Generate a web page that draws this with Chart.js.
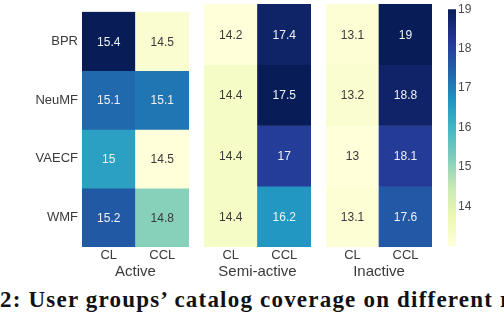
<!DOCTYPE html>
<html>
<head>
<meta charset="utf-8">
<script src="https://cdn.jsdelivr.net/npm/chart.js@4/dist/chart.umd.min.js"></script>
<style>
  html, body { margin: 0; padding: 0; background: #fff; }
  body { width: 504px; height: 312px; position: relative; overflow: hidden; }
  canvas { position: absolute; top: 0; }
  #caption {
    position: absolute; left: 0; top: 288px; white-space: nowrap;
    font: bold 23px 'Liberation Serif', serif; line-height: 23px; letter-spacing: 1.2px; color: #111;
  }
</style>
</head>
<body>
<canvas id="active" width="190" height="281" style="left:0px"></canvas>
<canvas id="semi" width="108" height="281" style="left:204px"></canvas>
<canvas id="inactive" width="107" height="281" style="left:326px"></canvas>
<canvas id="cbar" width="64" height="281" style="left:440px"></canvas>
<div id="caption">2: User groups’ catalog coverage on different recommendation models</div>
<script>
// rows / columns / panels
const rowLabels = ['BPR', 'NeuMF', 'VAECF', 'WMF'];
const colLabels = ['CL', 'CCL'];
const groupLabels = ['Active', 'Semi-active', 'Inactive'];

// catalog coverage, one array per panel column (top row first)
const activeCL = [15.4, 15.14, 15.0, 15.18];
const activeCCL = [14.49, 15.11, 14.46, 14.8];
const semiCL = [14.2, 14.4, 14.4, 14.4];
const semiCCL = [17.4, 17.5, 17.0, 16.2];
const inactiveCL = [13.1, 13.2, 13.0, 13.1];
const inactiveCCL = [19.0, 18.8, 18.1, 17.6];

// colour bar range and ticks
const cbarMin = 13, cbarMax = 19;
const cbarTicks = [14, 15, 16, 17, 18, 19];

const ylgnbu = ['#ffffd9', '#edf8b1', '#c7e9b4', '#7fcdbb', '#41b6c4', '#1d91c0', '#225ea8', '#253494', '#081d58'];
const FONT = "'Liberation Sans', Arial, sans-serif";
const INK = '#3a3a3a';

function hexRgb(h) {
  return [parseInt(h.substr(1, 2), 16), parseInt(h.substr(3, 2), 16), parseInt(h.substr(5, 2), 16)];
}

function cmap(t) {
  t = Math.max(0, Math.min(1, t));
  let p = t * (ylgnbu.length - 1);
  let i = Math.min(Math.floor(p), ylgnbu.length - 2);
  let f = p - i;
  let a = hexRgb(ylgnbu[i]), b = hexRgb(ylgnbu[i + 1]);
  let c = a.map((v, k) => Math.round(v + (b[k] - v) * f));
  return 'rgb(' + c.join(',') + ')';
}

function textColor(rgb) {
  let c = rgb.match(/\d+/g).map(v => {
    v = v / 255;
    return v <= 0.03928 ? v / 12.92 : Math.pow((v + 0.055) / 1.055, 2.4);
  });
  let lum = 0.2126 * c[0] + 0.7152 * c[1] + 0.0722 * c[2];
  return lum > 0.408 ? INK : '#eef2f7';
}

function fmt(v) {
  return String(+v.toPrecision(3));
}

// writes the value in the middle of each cell
const cellText = {
  id: 'cellText',
  afterDatasetsDraw(chart) {
    const ctx = chart.ctx;
    ctx.save();
    ctx.font = '12px ' + FONT;
    ctx.textAlign = 'center';
    ctx.textBaseline = 'middle';
    chart.data.datasets.forEach((ds, i) => {
      chart.getDatasetMeta(i).data.forEach((bar, j) => {
        ctx.fillStyle = textColor(ds.backgroundColor[j]);
        ctx.fillText(fmt(ds.values[j]), bar.x, (bar.y + bar.base) / 2 + 1);
      });
    });
    ctx.restore();
  }
};

function makePanel(id, group, cl, ccl, showY) {
  let all = cl.concat(ccl);
  let lo = Math.min(...all), hi = Math.max(...all);
  let datasets = rowLabels.map((r, i) => ({
    label: r,
    data: [1, 1],
    values: [cl[i], ccl[i]],
    backgroundColor: [cmap((cl[i] - lo) / (hi - lo)), cmap((ccl[i] - lo) / (hi - lo))],
    borderWidth: 0,
    barPercentage: 1,
    categoryPercentage: 1
  }));

  let yScale = {
    display: showY,
    stacked: true,
    reverse: true,
    min: 0,
    max: rowLabels.length,
    grid: { display: false, drawTicks: false },
    border: { display: false },
    afterBuildTicks: s => { s.ticks = rowLabels.map((_, i) => ({ value: i + 0.5 })); },
    ticks: {
      autoSkip: false,
      color: INK,
      font: { family: FONT, size: 13 },
      padding: 4,
      callback: v => rowLabels[Math.floor(v)]
    }
  };
  if (showY) yScale.afterFit = s => { s.width = 82; };

  return new Chart(document.getElementById(id), {
    type: 'bar',
    data: { labels: colLabels, datasets: datasets },
    plugins: [cellText],
    options: {
      responsive: false,
      animation: false,
      layout: { padding: { top: 4, right: 1, left: 0, bottom: 0 } },
      plugins: { legend: { display: false }, tooltip: { enabled: false } },
      scales: {
        x: {
          stacked: true,
          grid: { display: false, drawTicks: false },
          border: { display: false },
          ticks: { color: INK, font: { family: FONT, size: 13 }, padding: 1, maxRotation: 0, autoSkip: false },
          title: { display: true, text: group, color: INK, font: { family: FONT, size: 15 }, padding: 0 },
          afterFit: s => { s.height = 34; }
        },
        y: yScale
      }
    }
  });
}

makePanel('active', groupLabels[0], activeCL, activeCCL, true);
makePanel('semi', groupLabels[1], semiCL, semiCCL, false);
makePanel('inactive', groupLabels[2], inactiveCL, inactiveCCL, false);

// colour bar: one floating bar from min to max filled with the colour map
new Chart(document.getElementById('cbar'), {
  type: 'bar',
  data: {
    labels: [''],
    datasets: [{
      data: [[cbarMin, cbarMax]],
      borderWidth: 0,
      borderSkipped: false,
      barPercentage: 1,
      categoryPercentage: 1,
      backgroundColor: ctx => {
        const chart = ctx.chart;
        const y = chart.scales.y;
        if (!chart.chartArea || !y) return ylgnbu[0];
        const y0 = y.getPixelForValue(cbarMin), y1 = y.getPixelForValue(cbarMax);
        if (!isFinite(y0) || !isFinite(y1)) return ylgnbu[0];
        const g = chart.ctx.createLinearGradient(0, y0, 0, y1);
        for (let k = 0; k <= 40; k++) g.addColorStop(k / 40, cmap(k / 40));
        return g;
      }
    }]
  },
  options: {
    responsive: false,
    animation: false,
    layout: { padding: { top: 4, left: 8, right: 0, bottom: 35 } },
    plugins: { legend: { display: false }, tooltip: { enabled: false } },
    scales: {
      x: { display: false },
      y: {
        position: 'right',
        min: cbarMin,
        max: cbarMax,
        grid: { display: false, drawTicks: false },
        border: { display: false },
        afterBuildTicks: s => { s.ticks = cbarTicks.map(v => ({ value: v })); },
        ticks: { color: '#4a4a4a', font: { family: FONT, size: 12 }, padding: 2 },
        afterFit: s => { s.width = 48; }
      }
    }
  }
});
</script>
</body>
</html>
